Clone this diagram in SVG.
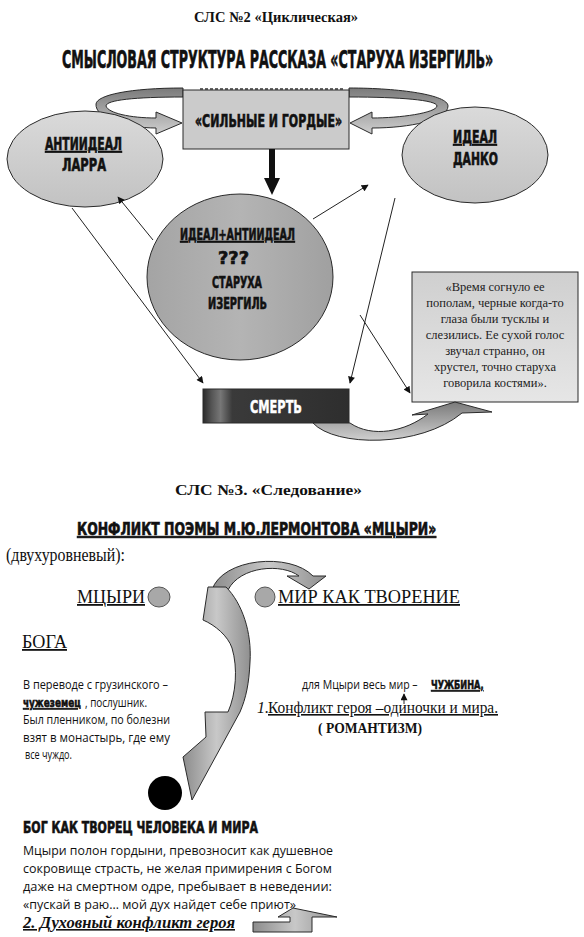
<svg xmlns="http://www.w3.org/2000/svg" width="584" height="937" viewBox="0 0 584 937">
<defs>
<style>
.h{font-family:"Liberation Sans Narrow","DejaVu Sans Condensed","Liberation Sans",sans-serif;font-weight:bold;fill:#111;stroke:#111;stroke-width:0.6}
.s{font-family:"Liberation Serif","Times New Roman",serif;fill:#111}
.o{font-family:"Open Sans","Noto Sans",sans-serif;fill:#111}
.u{text-decoration:underline}
.b{font-weight:bold}
.q{font-family:"Liberation Serif",serif;font-size:12.5px;fill:#222;text-anchor:middle}
.shape{stroke:#2a2a2a;stroke-width:1}
.con{stroke:#222;stroke-width:1;fill:none;marker-end:url(#ah)}
</style>
<linearGradient id="gEll" x1="0" y1="0" x2="0" y2="1"><stop offset="0" stop-color="#dadada"/><stop offset="1" stop-color="#c2c2c2"/></linearGradient>
<linearGradient id="gCen" x1="0" y1="0" x2="1" y2="0"><stop offset="0" stop-color="#a4a4a4"/><stop offset="0.5" stop-color="#b4b4b4"/><stop offset="1" stop-color="#a0a0a0"/></linearGradient>
<linearGradient id="gQuote" x1="0" y1="0" x2="0" y2="1"><stop offset="0" stop-color="#cfcfcf"/><stop offset="1" stop-color="#e6e6e6"/></linearGradient>
<linearGradient id="gSmert" x1="0" y1="0" x2="1" y2="0"><stop offset="0" stop-color="#2a2a2a"/><stop offset="0.06" stop-color="#555"/><stop offset="0.12" stop-color="#777"/><stop offset="0.2" stop-color="#3a3a3a"/><stop offset="1" stop-color="#2e2e2e"/></linearGradient>
<linearGradient id="gArr" x1="0" y1="0" x2="0" y2="1"><stop offset="0" stop-color="#7a7a7a"/><stop offset="1" stop-color="#cfcfcf"/></linearGradient>
<linearGradient id="gArrH" x1="0" y1="0" x2="1" y2="0"><stop offset="0" stop-color="#8c8c8c"/><stop offset="0.5" stop-color="#c8c8c8"/><stop offset="1" stop-color="#909090"/></linearGradient>
<marker id="ah" viewBox="0 0 10 10" refX="9" refY="5" markerWidth="8" markerHeight="7" orient="auto" markerUnits="userSpaceOnUse"><path d="M0,0 L10,5 L0,10 Z" fill="#111"/></marker>
</defs>
<rect width="584" height="937" fill="#fff"/>

<g id="titles-top">
<text x="194" y="22" class="s b" font-size="15" textLength="164" lengthAdjust="spacingAndGlyphs">СЛС №2 «Циклическая»</text>
<text transform="translate(62,68) scale(0.7,1)" x="0" y="0" class="h" font-size="24" textLength="616" lengthAdjust="spacingAndGlyphs">СМЫСЛОВАЯ СТРУКТУРА РАССКАЗА «СТАРУХА ИЗЕРГИЛЬ»</text>
</g>

<g id="loop-arrows">
<path class="shape" fill="url(#gArr)" d="M183,88 C130,88 97,95 96,104 C95,118 125,128 156,128 L156,134 L182,123 L156,112 L156,118 C130,118 108,113 106,106 C106,100 135,97 183,97 Z"/>
<path class="shape" fill="url(#gArr)" d="M349,88 C400,88 448,95 448,106 C448,120 410,128 372,128 L372,134 L350,123 L372,112 L372,118 C400,118 436,113 437,106 C437,100 400,97 349,97 Z"/>
</g>

<g id="node-strong">
<rect x="183" y="90" width="166" height="59" fill="#cbcbcb" class="shape"/>
<line x1="200" y1="89" x2="343" y2="89" stroke="#333" stroke-width="1.5" stroke-dasharray="3,2"/>
<text x="195" y="127" class="h" font-size="18" textLength="147" lengthAdjust="spacingAndGlyphs">«СИЛЬНЫЕ И ГОРДЫЕ»</text>
</g>

<g id="node-larra">
<ellipse cx="85" cy="159" rx="78" ry="48" fill="url(#gEll)" class="shape"/>
<text x="45" y="150" class="h u" font-size="17" textLength="77" lengthAdjust="spacingAndGlyphs">АНТИИДЕАЛ</text>
<text x="62" y="171" class="h" font-size="17" textLength="44" lengthAdjust="spacingAndGlyphs">ЛАРРА</text>
</g>

<g id="node-danko">
<ellipse cx="475" cy="155" rx="73" ry="48" fill="url(#gEll)" class="shape"/>
<text x="453" y="143" class="h u" font-size="17" textLength="44" lengthAdjust="spacingAndGlyphs">ИДЕАЛ</text>
<text x="453" y="165" class="h" font-size="17" textLength="45" lengthAdjust="spacingAndGlyphs">ДАНКО</text>
</g>

<g id="node-izergil">
<ellipse cx="240" cy="277" rx="93" ry="83" fill="url(#gCen)" class="shape"/>
<text x="180" y="240" class="h u" font-size="16" textLength="115" lengthAdjust="spacingAndGlyphs">ИДЕАЛ+АНТИИДЕАЛ</text>
<text x="218" y="264" class="h" font-size="17" textLength="31" lengthAdjust="spacingAndGlyphs">???</text>
<text x="212" y="288" class="h" font-size="16" textLength="50" lengthAdjust="spacingAndGlyphs">СТАРУХА</text>
<text x="208" y="309" class="h" font-size="16" textLength="59" lengthAdjust="spacingAndGlyphs">ИЗЕРГИЛЬ</text>
</g>

<g id="node-quote">
<rect x="412" y="272" width="166" height="130" fill="url(#gQuote)" class="shape"/>
<text class="q" x="495" y="291">«Время согнуло ее</text>
<text class="q" x="495" y="307">пополам, черные когда-то</text>
<text class="q" x="495" y="323">глаза были тусклы и</text>
<text class="q" x="495" y="339">слезились. Ее сухой голос</text>
<text class="q" x="495" y="355">звучал странно, он</text>
<text class="q" x="495" y="371">хрустел, точно старуха</text>
<text class="q" x="495" y="387">говорила костями».</text>
</g>

<g id="node-death">
<rect x="203" y="389" width="146" height="34" fill="url(#gSmert)" class="shape"/>
<text x="250" y="413" class="h" font-size="17" textLength="52" lengthAdjust="spacingAndGlyphs" style="fill:#fff;stroke:#fff;stroke-width:0.4">СМЕРТЬ</text>
</g>

<g id="connectors">
<polygon points="269,149 275,149 275,178 280,178 272,195 264,178 269,178" fill="#111"/>
<line class="con" x1="153" y1="240" x2="118" y2="197"/>
<line class="con" x1="313" y1="219" x2="368" y2="185"/>
<line class="con" x1="72" y1="208" x2="203" y2="383"/>
<line class="con" x1="395" y1="198" x2="350" y2="383"/>
<line class="con" x1="360" y1="315" x2="410" y2="393"/>
<path class="shape" fill="url(#gArr)" d="M313,423 C335,447 420,448 462,413 L492,412 L455,402 L412,415 L428,414 C405,432 372,438 350,423 Z"/>
</g>

<g id="titles-bottom">
<text x="175" y="495" class="s b" font-size="15" textLength="187" lengthAdjust="spacingAndGlyphs">СЛС №3. «Следование»</text>
<text transform="translate(77,535) scale(0.8,1)" x="0" y="0" class="h u" font-size="18" textLength="449" lengthAdjust="spacingAndGlyphs">КОНФЛИКТ  ПОЭМЫ  М.Ю.ЛЕРМОНТОВА  «МЦЫРИ»</text>
<text x="6" y="561" class="s" font-size="18" textLength="119" lengthAdjust="spacingAndGlyphs">(двухуровневый):</text>
</g>

<g id="node-mtsyri">
<text x="77" y="603" class="s u" font-size="18" textLength="68" lengthAdjust="spacingAndGlyphs">МЦЫРИ</text>
<ellipse cx="159" cy="597" rx="11" ry="10" fill="#a8a8a8" stroke="#555" stroke-width="1"/>
</g>

<g id="node-world">
<ellipse cx="265" cy="597" rx="10" ry="10" fill="#a8a8a8" stroke="#555" stroke-width="1"/>
<text x="278" y="603" class="s u" font-size="18" textLength="182" lengthAdjust="spacingAndGlyphs">МИР КАК ТВОРЕНИЕ</text>
</g>

<g id="s-arrows">
<path class="shape" fill="url(#gArrH)" d="M212,590 C222,558 290,552 313,576 L326,576 L309,589 L287,576 L299,576 C282,563 240,566 228,590 Z"/>
<path class="shape" fill="url(#gArrH)" d="M208,587 L226,587 C242,603 252,632 250,662 C249,684 246,698 240,712 L192,800 L183,757 L206,737 L205,712 L228,712 C236,694 238,668 232,648 C228,636 215,625 203,620 Z"/>
</g>

<g id="node-boga">
<text x="22" y="648" class="s u" font-size="18" textLength="45" lengthAdjust="spacingAndGlyphs">БОГА</text>
<text x="23" y="689" class="o" font-size="12.5" textLength="145" lengthAdjust="spacingAndGlyphs">В переводе с грузинского –</text>
<text transform="translate(23,707) scale(0.75,1)" x="0" y="0" class="h u" font-size="13" textLength="77" lengthAdjust="spacingAndGlyphs">чужеземец</text>
<text transform="translate(85,707) scale(0.85,1)" x="0" y="0" class="o" font-size="12.5" textLength="73" lengthAdjust="spacingAndGlyphs">,  послушник.</text>
<text x="23" y="724" class="o" font-size="12.5" textLength="147" lengthAdjust="spacingAndGlyphs">Был пленником, по болезни</text>
<text x="23" y="742" class="o" font-size="12.5" textLength="147" lengthAdjust="spacingAndGlyphs">взят в  монастырь,  где  ему</text>
<text x="25" y="759" class="o" font-size="12.5" textLength="47" lengthAdjust="spacingAndGlyphs">все чуждо.</text>
</g>

<g id="node-romantism">
<text transform="translate(302,689) scale(0.82,1)" x="0" y="0" class="o" font-size="12.5" textLength="141" lengthAdjust="spacingAndGlyphs">для Мцыри весь мир –</text>
<text transform="translate(431,689) scale(0.75,1)" x="0" y="0" class="h u" font-size="13" textLength="70" lengthAdjust="spacingAndGlyphs">ЧУЖБИНА,</text>
<line x1="404" y1="704" x2="404" y2="694" stroke="#222" stroke-width="1" marker-end="url(#ah)"/>
<text x="257" y="713" class="s" font-size="16"><tspan font-style="italic">1.</tspan><tspan x="268" class="u" textLength="230" lengthAdjust="spacingAndGlyphs">Конфликт героя –одиночки и мира.</tspan></text>
<text x="318" y="733" class="s b" font-size="14" textLength="104" lengthAdjust="spacingAndGlyphs">( РОМАНТИЗМ)</text>
</g>

<g id="node-god">
<ellipse cx="165" cy="793" rx="17" ry="17" fill="#000"/>
<text x="23" y="833" class="h" font-size="16" textLength="235" lengthAdjust="spacingAndGlyphs">БОГ КАК ТВОРЕЦ ЧЕЛОВЕКА  И   МИРА</text>
<text x="23" y="855" class="o" font-size="13" textLength="310" lengthAdjust="spacingAndGlyphs">Мцыри полон гордыни, превозносит как душевное</text>
<text x="23" y="873" class="o" font-size="13" textLength="309" lengthAdjust="spacingAndGlyphs">сокровище страсть, не желая примирения с Богом</text>
<text x="23" y="891" class="o" font-size="13" textLength="309" lengthAdjust="spacingAndGlyphs">даже на смертном одре, пребывает в неведении:</text>
<text x="23" y="909" class="o" font-size="13" textLength="273" lengthAdjust="spacingAndGlyphs">«пускай в раю… мой дух найдет себе приют»</text>
<text x="23" y="928" class="s b u" font-size="16" font-style="italic" textLength="212" lengthAdjust="spacingAndGlyphs">2. Духовный конфликт героя</text>
<polygon class="shape" fill="url(#gArrH)" points="253,922 290,922 290,917 278,917 293,908 337,917 312,917 312,932 253,932"/>
</g>
</svg>
